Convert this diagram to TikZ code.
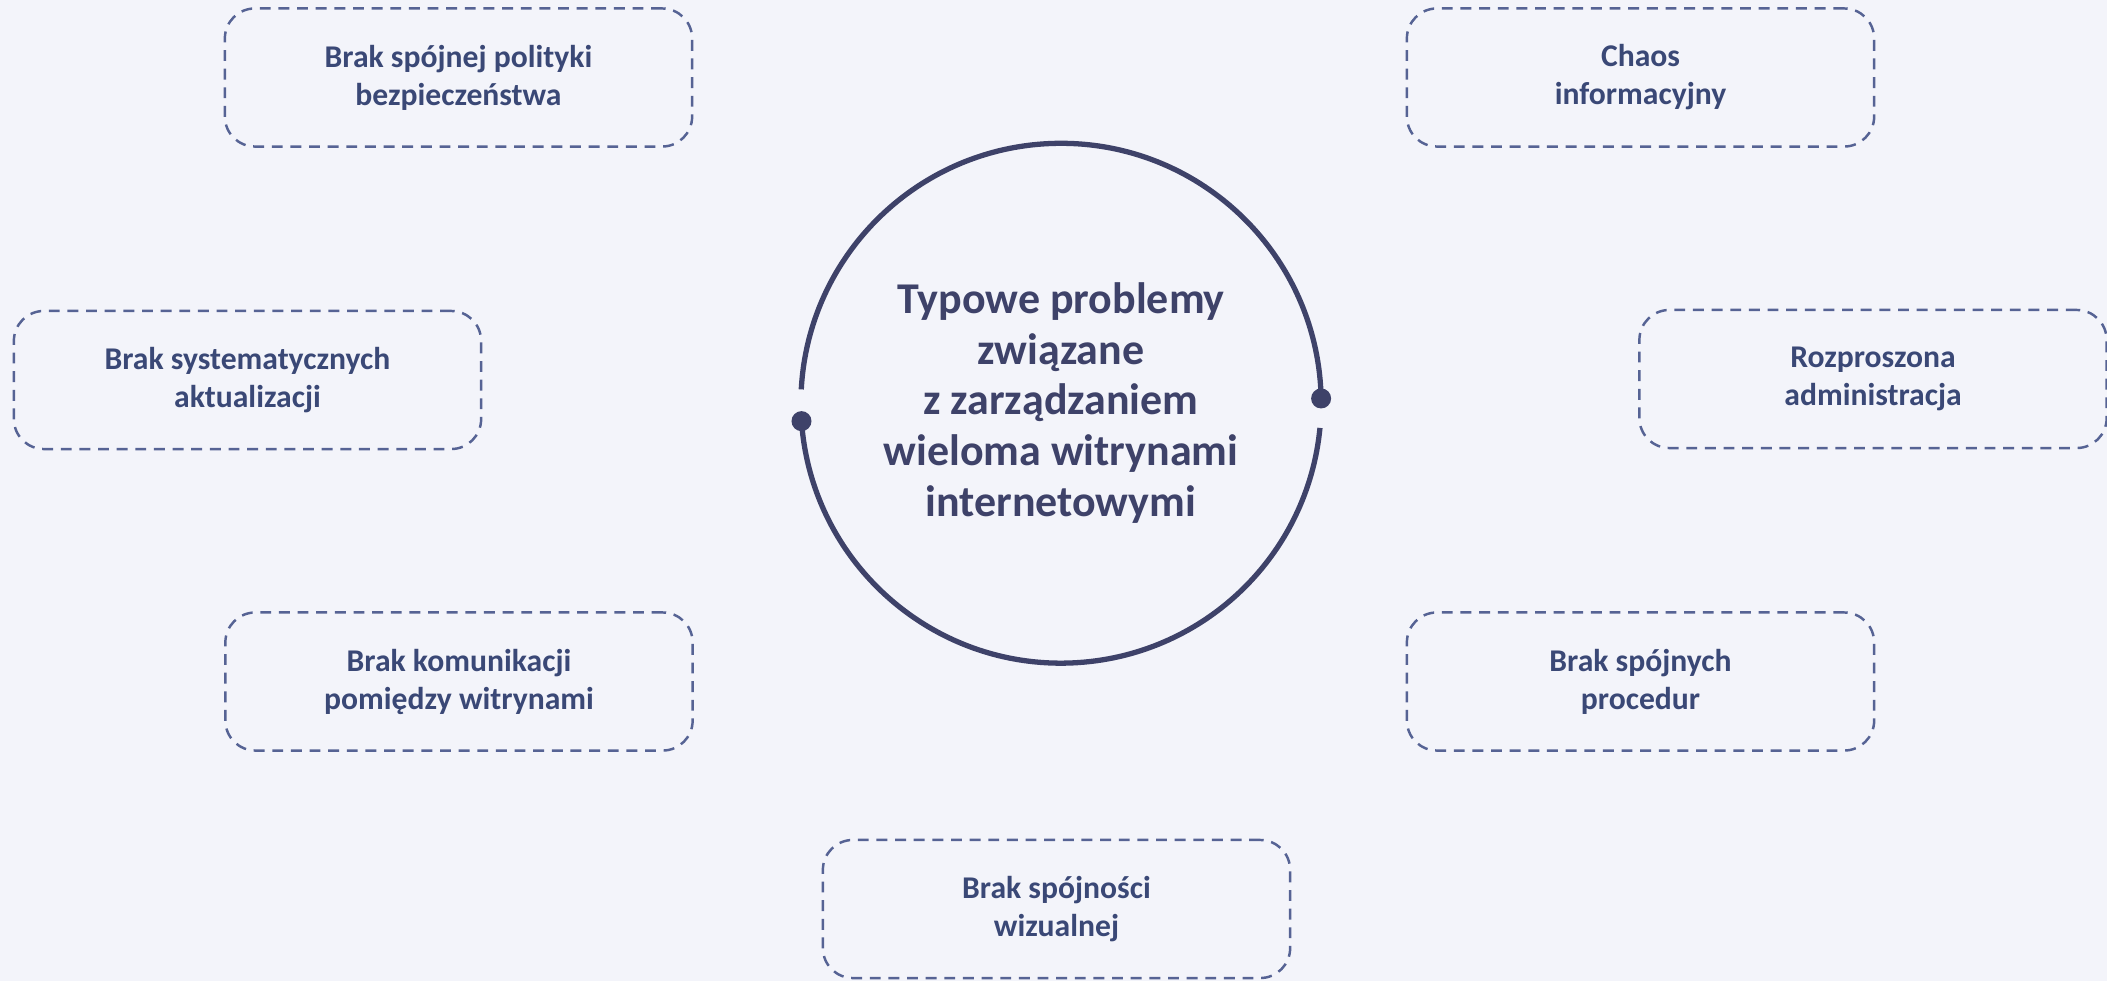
\documentclass[tikz,border=0pt]{standalone}
\usepackage{fontspec}
\setmainfont{Carlito}
\usepackage{tikz}
\usetikzlibrary{positioning}
\definecolor{bgpale}{RGB}{243,244,250}
\definecolor{ringnavy}{RGB}{62,66,105}
\definecolor{dashnavy}{RGB}{86,99,148}
\definecolor{textnavy}{RGB}{58,72,118}
\tikzset{
  issue/.style={draw=dashnavy,line width=0.7pt,dash pattern=on 3.1pt off 2.2pt,
    rounded corners=0.3cm,minimum width=4.67cm,minimum height=1.38cm,
    align=center,text=textnavy,font=\fontsize{9}{10.8}\selectfont\bfseries},
  hubtitle/.style={circle,minimum size=5.2cm,inner sep=0pt,outer sep=0pt,
    align=center,text=ringnavy,font=\fontsize{12.5}{14.4}\selectfont\bfseries},
  ring/.style={draw=ringnavy,line width=1.5pt}
}

\begin{document}
\begin{tikzpicture}[x=0.01cm,y=0.01cm]
\fill[bgpale](0,0)rectangle(2107,981); %background
\useasboundingbox(0,0)rectangle(2107,981);

\node[hubtitle] (hub) at (1061,578){Typowe problemy\\związane\\z zarządzaniem\\wieloma witrynami\\internetowymi};
\draw[ring](hub.1.1) arc[start angle=1.1,end angle=176.9,radius=2.6cm]; %upper half
\draw[ring](hub.184) arc[start angle=184,end angle=354.5,radius=2.6cm]; %lower half
\fill[ringnavy](hub.1.1) circle (0.1cm); %dot right
\fill[ringnavy](hub.184) circle (0.1cm); %dot left

%problems
\node[issue] (policy) at (458.5,903.5){Brak spójnej polityki\\bezpieczeństwa};
\node[issue] (chaos) at (1640.5,903.5){Chaos\\informacyjny};
\node[issue] (updates) at (247.5,601){Brak systematycznych\\aktualizacji};
\node[issue] (admin) at (1873,602){Rozproszona\\administracja};
\node[issue] (comms) at (459,299.5){Brak komunikacji\\pomiędzy witrynami};
\node[issue] (procs) at (1640.5,299.5){Brak spójnych\\procedur};
\node[issue] (visual) at (1056.5,72){Brak spójności\\wizualnej};
\end{tikzpicture}
\end{document}
